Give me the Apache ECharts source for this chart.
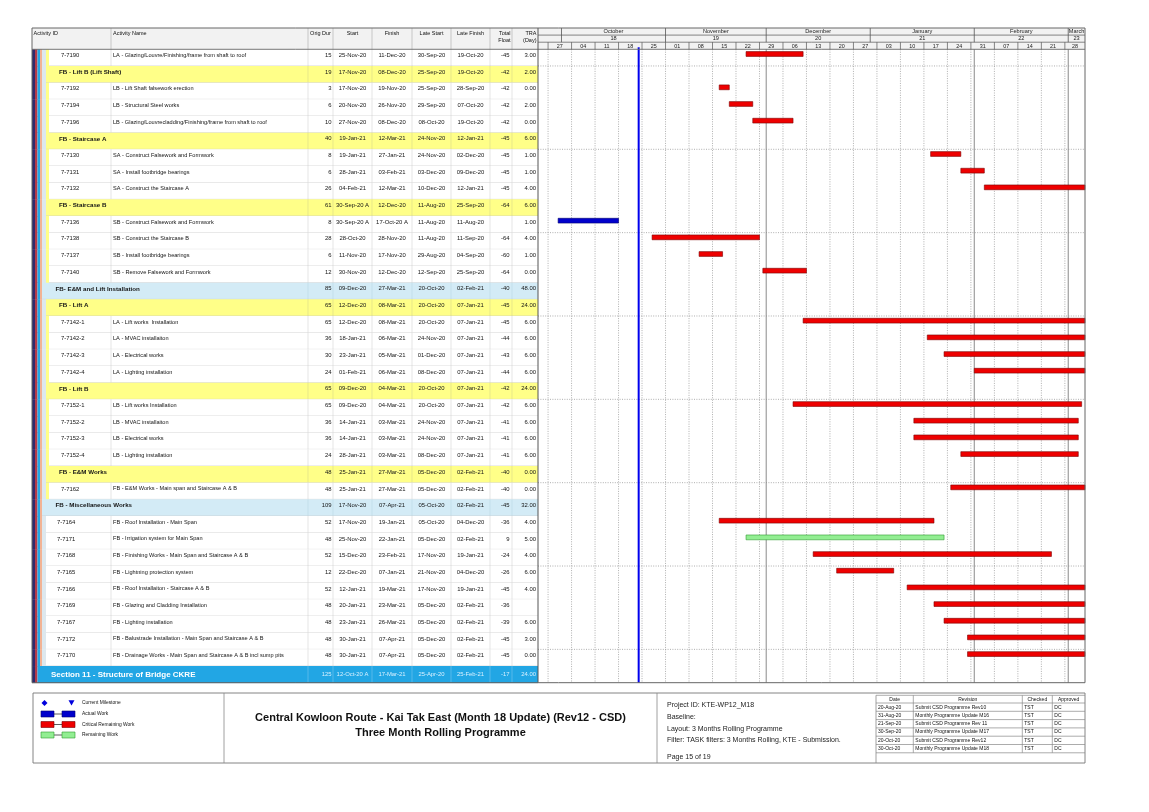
<!DOCTYPE html>
<html><head><meta charset="utf-8"><title>Three Month Rolling Programme</title>
<script src="https://cdn.jsdelivr.net/npm/echarts@6/dist/echarts.min.js"></script>
<style>html,body{margin:0;padding:0;background:#fff;}#chart{width:1149px;height:812px;}</style>
</head><body><div id="chart"></div>
<script>
// ---------------- data ----------------
const activityIds = ['7-7190','','7-7192','7-7194','7-7196','','7-7130','7-7131','7-7132','','7-7136','7-7138','7-7137','7-7140','','','7-7142-1','7-7142-2','7-7142-3','7-7142-4','','7-7152-1','7-7152-2','7-7152-3','7-7152-4','','7-7162','','7-7164','7-7171','7-7168','7-7165','7-7166','7-7169','7-7167','7-7172','7-7170',''];
const activityNames = [
 'LA - Glazing/Louvre/Finishing/frame from shaft to roof',
 'FB - Lift B (Lift Shaft)',
 'LB - Lift Shaft falsework erection',
 'LB - Structural Steel works',
 'LB - Glazing/Louvrecladding/Finishing/frame from shaft to roof',
 'FB - Staircase A',
 'SA - Construct Falsework and Formwork',
 'SA - Install footbridge bearings',
 'SA - Construct the Staircase A',
 'FB - Staircase B',
 'SB - Construct Falsework and Formwork',
 'SB - Construct the Staircase B',
 'SB - Install footbridge bearings',
 'SB - Remove Falsework and Formwork',
 'FB- E&M and Lift Installation',
 'FB - Lift A',
 'LA - Lift works  Installation',
 'LA - MVAC installaiton',
 'LA - Electrical works',
 'LA - Lighting installation',
 'FB - Lift B',
 'LB - Lift works Installation',
 'LB - MVAC installaiton',
 'LB - Electrical works',
 'LB - Lighting installation',
 'FB - E&M Works',
 'FB - E&M Works - Main span and Staircase A & B',
 'FB - Miscellaneous Works',
 'FB - Roof Installation - Main Span',
 'FB - Irrigation system for Main Span',
 'FB - Finishing Works - Main Span and Staircase A & B',
 'FB - Lightning protection system',
 'FB - Roof Installaiton - Staircase A & B',
 'FB - Glazing and Cladding Installation',
 'FB - Lighting installation',
 'FB - Balustrade Installation - Main Span and Staircase A & B',
 'FB - Drainage Works - Main Span and Staircase A & B incl sump pits',
 'Section 11 - Structure of Bridge CKRE'
];
// row kind: L1 section band, L2 / L3 WBS bands, A activity
const rowType = ['A','L3','A','A','A','L3','A','A','A','L3','A','A','A','A','L2','L3','A','A','A','A','L3','A','A','A','A','L3','A','L2','A','A','A','A','A','A','A','A','A','L1'];
// band that contains an activity row
const rowGroup = ['L3','','L3','L3','L3','','L3','L3','L3','','L3','L3','L3','L3','','','L3','L3','L3','L3','','L3','L3','L3','L3','','L3','','L2','L2','L2','L2','L2','L2','L2','L2','L2',''];
const origDur = [15,19,3,6,10,40,8,6,26,61,8,28,6,12,85,65,65,36,30,24,65,65,36,36,24,48,48,109,52,48,52,12,52,48,48,48,48,125];
const startDates = ['25-Nov-20','17-Nov-20','17-Nov-20','20-Nov-20','27-Nov-20','19-Jan-21','19-Jan-21','28-Jan-21','04-Feb-21','30-Sep-20 A','30-Sep-20 A','28-Oct-20','11-Nov-20','30-Nov-20','09-Dec-20','12-Dec-20','12-Dec-20','18-Jan-21','23-Jan-21','01-Feb-21','09-Dec-20','09-Dec-20','14-Jan-21','14-Jan-21','28-Jan-21','25-Jan-21','25-Jan-21','17-Nov-20','17-Nov-20','25-Nov-20','15-Dec-20','22-Dec-20','12-Jan-21','20-Jan-21','23-Jan-21','30-Jan-21','30-Jan-21','12-Oct-20 A'];
const finishDates = ['11-Dec-20','08-Dec-20','19-Nov-20','26-Nov-20','08-Dec-20','12-Mar-21','27-Jan-21','03-Feb-21','12-Mar-21','12-Dec-20','17-Oct-20 A','28-Nov-20','17-Nov-20','12-Dec-20','27-Mar-21','08-Mar-21','08-Mar-21','06-Mar-21','05-Mar-21','06-Mar-21','04-Mar-21','04-Mar-21','03-Mar-21','03-Mar-21','03-Mar-21','27-Mar-21','27-Mar-21','07-Apr-21','19-Jan-21','22-Jan-21','23-Feb-21','07-Jan-21','19-Mar-21','23-Mar-21','26-Mar-21','07-Apr-21','07-Apr-21','17-Mar-21'];
const lateStarts = ['30-Sep-20','25-Sep-20','25-Sep-20','29-Sep-20','08-Oct-20','24-Nov-20','24-Nov-20','03-Dec-20','10-Dec-20','11-Aug-20','11-Aug-20','11-Aug-20','29-Aug-20','12-Sep-20','20-Oct-20','20-Oct-20','20-Oct-20','24-Nov-20','01-Dec-20','08-Dec-20','20-Oct-20','20-Oct-20','24-Nov-20','24-Nov-20','08-Dec-20','05-Dec-20','05-Dec-20','05-Oct-20','05-Oct-20','05-Dec-20','17-Nov-20','21-Nov-20','17-Nov-20','05-Dec-20','05-Dec-20','05-Dec-20','05-Dec-20','25-Apr-20'];
const lateFinishes = ['19-Oct-20','19-Oct-20','28-Sep-20','07-Oct-20','19-Oct-20','12-Jan-21','02-Dec-20','09-Dec-20','12-Jan-21','25-Sep-20','11-Aug-20','11-Sep-20','04-Sep-20','25-Sep-20','02-Feb-21','07-Jan-21','07-Jan-21','07-Jan-21','07-Jan-21','07-Jan-21','07-Jan-21','07-Jan-21','07-Jan-21','07-Jan-21','07-Jan-21','02-Feb-21','02-Feb-21','02-Feb-21','04-Dec-20','02-Feb-21','19-Jan-21','04-Dec-20','19-Jan-21','02-Feb-21','02-Feb-21','02-Feb-21','02-Feb-21','25-Feb-21'];
const totalFloat = ['-45','-42','-42','-42','-42','-45','-45','-45','-45','-64','','-64','-60','-64','-40','-45','-45','-44','-43','-44','-42','-42','-41','-41','-41','-40','-40','-45','-36','9','-24','-26','-45','-36','-39','-45','-45','-17'];
const traDays = ['3.00','2.00','0.00','2.00','0.00','6.00','1.00','1.00','4.00','6.00','1.00','4.00','1.00','0.00','48.00','24.00','6.00','6.00','6.00','6.00','24.00','6.00','6.00','6.00','6.00','0.00','0.00','32.00','4.00','5.00','4.00','6.00','4.00','','6.00','3.00','0.00','24.00'];
// bar kind: A actual work, C critical remaining work, R remaining work, '' no bar
const barKind = ['C','','C','C','C','','C','C','C','','A','C','C','C','','','C','C','C','C','','C','C','C','C','','C','','C','R','C','C','C','C','C','C','C',''];

const monthNames = ['October','November','December','January','February','March'];
const monthNumbers = ['18','19','20','21','22','23'];
const monthStarts = ['01-Oct-20','01-Nov-20','01-Dec-20','01-Jan-21','01-Feb-21','01-Mar-21'];
const weekStarts = ['27-Sep-20','04-Oct-20','11-Oct-20','18-Oct-20','25-Oct-20','01-Nov-20','08-Nov-20','15-Nov-20','22-Nov-20','29-Nov-20','06-Dec-20','13-Dec-20','20-Dec-20','27-Dec-20','03-Jan-21','10-Jan-21','17-Jan-21','24-Jan-21','31-Jan-21','07-Feb-21','14-Feb-21','21-Feb-21','28-Feb-21'];
const weekLabels = ['27','04','11','18','25','01','08','15','22','29','06','13','20','27','03','10','17','24','31','07','14','21','28'];
const majorSightLines = ['01-Dec-20','01-Feb-21','01-Mar-21'];
const dataDate = '24-Oct-20';
const viewStart = '24-Sep-20';
const viewEnd = '06-Mar-21';

const columnHeaders = ['Activity ID','Activity Name','Orig Dur','Start','Finish','Late Start','Late Finish','Total\nFloat','TRA\n(Day)'];
const legendLabels = ['Current Milestone','Actual Work','Critical Remaining Work','Remaining Work'];
const titleLines = ['Central Kowloon Route - Kai Tak East (Month 18 Update) (Rev12 - CSD)','Three Month Rolling Programme'];
const projectInfo = ['Project ID: KTE-WP12_M18','Baseline:','Layout: 3 Months Rolling Programme','Filter: TASK filters: 3 Months Rolling, KTE - Submission.'];
const pageLabel = 'Page 15 of 19';
const revHeaders = ['Date','Revision','Checked','Approved'];
const revDates = ['20-Aug-20','31-Aug-20','21-Sep-20','30-Sep-20','20-Oct-20','30-Oct-20'];
const revDescs = ['Submit CSD Programme Rev10','Monthly Programme Update M16','Submit CSD Programme Rev 11','Monthly Programme Update M17','Submit CSD Programme Rev12','Monthly Programme Update M18'];
const revChecked = ['TST','TST','TST','TST','TST','TST'];
const revApproved = ['DC','DC','DC','DC','DC','DC'];

// ---------------- helpers / layout ----------------
const FONT = "'Liberation Sans', Arial, sans-serif";
const MON = {Jan:0,Feb:1,Mar:2,Apr:3,May:4,Jun:5,Jul:6,Aug:7,Sep:8,Oct:9,Nov:10,Dec:11};
function toTime(s){ const p = s.trim().split(' ')[0].split('-'); return Date.UTC(2000 + Number(p[2]), MON[p[1]], Number(p[0])); }
const DAY = 864e5;
const T0 = toTime(viewStart), T1 = toTime(viewEnd);
const LAY = {tblLeft:32, split:538, right:1085, top:28, hdrBottom:49.3, bottom:682.7};
const colEdges = [0,79,276,301,340,380,419,458,480,506];
const TW = LAY.split - LAY.tblLeft;
const rowKeys = activityIds.map((_, i) => String(i));

const BAR_STYLE = {A:['#0000cc','#00006e'], C:['#ee0000','#7a0000'], R:['#92ee92','#2f9a2f']};

function renderRow(params, api){
  const i = params.dataIndex;
  const c = api.coord([0, i]);
  const h = api.size([0, 1])[1];
  const top = c[1] - h / 2;
  const X = v => api.coord([v, i])[0];
  const t = rowType[i], g = rowGroup[i];
  const kids = [];
  const band = (a, b, fill) => kids.push({type:'rect', shape:{x:X(a), y:top, width:X(b) - X(a), height:h + 0.4}, style:{fill}});
  const vline = (v, stroke) => kids.push({type:'line', shape:{x1:X(v), y1:top, x2:X(v), y2:top + h}, style:{stroke, lineWidth:0.6}});
  const ty = top + (t === 'L1' ? 8.4 : 6.2);
  const txt = (v, s, align, extra) => kids.push({type:'text', x:X(v), y:ty,
    style:Object.assign({text:s, fill: t === 'L1' ? '#d8f0ff' : '#141414', fontFamily:FONT, fontSize:5.9, align, verticalAlign:'middle'}, extra || {})});

  band(0, 3, '#2f2a6b');
  band(3, 5.5, '#b23a48');
  let start;
  if (t === 'L1') { band(5.5, 506, '#22a6e4'); start = 5.5; }
  else {
    band(5.5, 8, '#22a6e4');
    band(8, 10, '#f2b394');
    if (t === 'L2') { band(10, 506, '#d3ebf6'); start = 10; }
    else {
      band(10, 14, '#dde8ee');
      if (t === 'L3') { band(14, 506, '#ffff88'); start = 14; }
      else {
        if (g === 'L3') { band(14, 17, '#ffff88'); start = 17; } else start = 14;
        band(start, 506, '#ffffff');
      }
    }
  }
  const colStroke = t === 'L1' ? '#78c8ef' : (t === 'L2' ? '#b9d7e5' : (t === 'L3' ? '#d9d98c' : '#d3d3d3'));
  for (let k = 2; k < colEdges.length - 1; k++) vline(colEdges[k], colStroke);
  if (t === 'A') vline(colEdges[1], colStroke);
  kids.push({type:'line', shape:{x1:X(start), y1:top + h, x2:X(506), y2:top + h}, style:{stroke: t === 'L1' ? '#1b8fc6' : '#c6c6c6', lineWidth:0.6}});

  if (t === 'A') {
    txt(g === 'L3' ? 29 : 25, activityIds[i], 'left');
    txt(81, activityNames[i], 'left', {fontSize:5.6});
  } else if (t === 'L3') {
    txt(27, activityNames[i], 'left', {fontWeight:'bold', fontSize:6.2});
  } else if (t === 'L2') {
    txt(23.5, activityNames[i], 'left', {fontWeight:'bold', fontSize:6.2});
  } else {
    txt(19, activityNames[i], 'left', {fontWeight:'bold', fontSize:8, fill:'#ffffff'});
  }
  txt(299.5, String(origDur[i]), 'right');
  txt(320.5, startDates[i], 'center');
  txt(360, finishDates[i], 'center');
  txt(399.5, lateStarts[i], 'center');
  txt(438.5, lateFinishes[i], 'center');
  txt(477.5, totalFloat[i], 'right');
  txt(504, traDays[i], 'right');
  return {type:'group', children:kids};
}

function renderRowSight(params, api){
  const i = params.dataIndex;
  if (i % 5 !== 1) return null;
  const cs = params.coordSys;
  const c = api.coord([T0, i]);
  const h = api.size([0, 1])[1];
  const y = c[1] - h / 2;
  return {type:'line', shape:{x1:cs.x, y1:y, x2:cs.x + cs.width, y2:y}, style:{stroke:'#8c8c8c', lineWidth:0.7, lineDash:[1, 1.4]}};
}
function renderWeekLine(params, api){
  const cs = params.coordSys;
  const x = api.coord([api.value(0), 0])[0];
  return {type:'line', shape:{x1:x, y1:cs.y, x2:x, y2:cs.y + cs.height}, style:{stroke:'#8c8c8c', lineWidth:0.7, lineDash:[1, 1.4]}};
}
function renderMajorLine(params, api){
  const cs = params.coordSys;
  const x = api.coord([api.value(0), 0])[0];
  return {type:'line', shape:{x1:x, y1:cs.y, x2:x, y2:cs.y + cs.height}, style:{stroke:'#8a8a8a', lineWidth:1}};
}
function renderDataDate(params, api){
  const cs = params.coordSys;
  const x = api.coord([api.value(0), 0])[0];
  return {type:'line', shape:{x1:x, y1:cs.y - 2, x2:x, y2:cs.y + cs.height}, style:{stroke:'#0000ee', lineWidth:2}};
}
let barData = [];
activityIds.forEach((_, i) => { if (barKind[i]) barData.push([i, toTime(startDates[i]), toTime(finishDates[i]) + DAY, barKind[i]]); });
function renderBar(params, api){
  const d = barData[params.dataIndex];
  const a = api.coord([api.value(1), api.value(0)]);
  const b = api.coord([api.value(2), api.value(0)]);
  const h = api.size([0, 1])[1];
  const cs = params.coordSys;
  const shape = echarts.graphic.clipRectByRect({x:a[0], y:a[1] - h / 2 + 2.3, width:b[0] - a[0], height:4.8},
    {x:cs.x, y:cs.y, width:cs.width, height:cs.height});
  if (!shape) return null;
  const st = BAR_STYLE[d[3]];
  return {type:'rect', shape, style:{fill:st[0], stroke:st[1], lineWidth:0.6}};
}
function renderMonth(params, api){
  const k = params.dataIndex;
  const p0 = api.coord([api.value(0), 0]);
  const p1 = api.coord([api.value(1), 1]);
  const p2 = api.coord([api.value(1), 2]);
  const x0 = p0[0], x1 = p1[0];
  return {type:'group', children:[
    {type:'line', shape:{x1:x0, y1:p0[1], x2:x0, y2:p2[1]}, style:{stroke:'#555', lineWidth:0.8}},
    {type:'text', x:(x0 + x1) / 2, y:(p0[1] + p1[1]) / 2 + 0.3, style:{text:monthNames[k], fontFamily:FONT, fontSize:5.6, fill:'#222', align:'center', verticalAlign:'middle'}},
    {type:'text', x:(x0 + x1) / 2, y:(p1[1] + p2[1]) / 2 + 0.3, style:{text:monthNumbers[k], fontFamily:FONT, fontSize:5.6, fill:'#222', align:'center', verticalAlign:'middle'}}
  ]};
}
function renderWeek(params, api){
  const k = params.dataIndex;
  const p0 = api.coord([api.value(0), 2]);
  const p1 = api.coord([api.value(1), 3]);
  return {type:'group', children:[
    {type:'line', shape:{x1:p0[0], y1:p0[1], x2:p0[0], y2:p1[1]}, style:{stroke:'#555', lineWidth:0.7}},
    {type:'text', x:(p0[0] + p1[0]) / 2, y:(p0[1] + p1[1]) / 2 + 0.3, style:{text:weekLabels[k], fontFamily:FONT, fontSize:5.4, fill:'#222', align:'center', verticalAlign:'middle'}}
  ]};
}

// ---------------- static frame / footer graphics ----------------
const G = [];
const gRect = (x, y, w, h, style, z) => G.push({type:'rect', shape:{x, y, width:w, height:h}, style, z:z || 0, silent:true});
const gLine = (x1, y1, x2, y2, stroke, w, z) => G.push({type:'line', shape:{x1, y1, x2, y2}, style:{stroke, lineWidth:w || 0.8}, z:z || 60, silent:true});
const gText = (x, y, text, o) => G.push({type:'text', x, y, style:Object.assign({text, fontFamily:FONT, fontSize:5.5, fill:'#111', align:'left', verticalAlign:'middle'}, o || {}), z:61, silent:true});

// headers background
gRect(LAY.tblLeft, LAY.top, TW, LAY.hdrBottom - LAY.top, {fill:'#f2f2f2'}, 0);
gRect(LAY.split, LAY.top, LAY.right - LAY.split, LAY.hdrBottom - LAY.top, {fill:'#f2f2f2'}, 0);
// table header columns & titles
for (let k = 1; k < colEdges.length - 1; k++) gLine(LAY.tblLeft + colEdges[k], LAY.top, LAY.tblLeft + colEdges[k], LAY.hdrBottom, '#b4b4b4', 0.7);
const hdrPos = [[1.5,'left'],[81,'left'],[288.5,'center'],[320.5,'center'],[360,'center'],[399.5,'center'],[438.5,'center'],[478.5,'right'],[504.5,'right']];
columnHeaders.forEach((h, k) => gText(LAY.tblLeft + hdrPos[k][0], 29.6, h, {align:hdrPos[k][1], verticalAlign:'top', fontSize:5.5, lineHeight:7.2}));
// gantt header tier lines
const tierH = (LAY.hdrBottom - LAY.top) / 3;
gLine(LAY.split, LAY.top + tierH, LAY.right, LAY.top + tierH, '#555', 0.7);
gLine(LAY.split, LAY.top + 2 * tierH, LAY.right, LAY.top + 2 * tierH, '#555', 0.7);
// main frame
gLine(LAY.tblLeft, LAY.hdrBottom, LAY.right, LAY.hdrBottom, '#666', 0.9);
gLine(LAY.split, LAY.top, LAY.split, LAY.bottom, '#555', 1);
gRect(LAY.tblLeft, LAY.top, LAY.right - LAY.tblLeft, LAY.bottom - LAY.top, {fill:'none', stroke:'#666', lineWidth:1}, 60);

// footer
const F = {top:693, bottom:763, left:33, legend:224, title:657, info:876};
gRect(F.left, F.top, LAY.right - F.left, F.bottom - F.top, {fill:'none', stroke:'#777', lineWidth:0.9}, 60);
gLine(F.legend, F.top, F.legend, F.bottom, '#888', 0.8);
gLine(F.title, F.top, F.title, F.bottom, '#888', 0.8);
// legend
const legY = [703, 714, 724.5, 735];
G.push({type:'polygon', shape:{points:[[44.5,legY[0]-3],[47.5,legY[0]],[44.5,legY[0]+3],[41.5,legY[0]]]}, style:{fill:'#0000dd'}, z:61, silent:true});
G.push({type:'polygon', shape:{points:[[68.5,legY[0]-2.8],[74.5,legY[0]-2.8],[71.5,legY[0]+2.6]]}, style:{fill:'#0000dd'}, z:61, silent:true});
[['A',1],['C',2],['R',3]].forEach(([kd, r]) => {
  const y = legY[r], st = BAR_STYLE[kd];
  gLine(53, y, 63, y, '#333', 0.8);
  gRect(41, y - 3, 13, 6, {fill:st[0], stroke:st[1], lineWidth:0.6}, 61);
  gRect(62, y - 3, 13, 6, {fill:st[0], stroke:st[1], lineWidth:0.6}, 61);
});
legendLabels.forEach((l, k) => gText(82, legY[k], l, {fontSize:4.9}));
// title
gText((F.legend + F.title) / 2, 718, titleLines[0], {align:'center', fontSize:11, fontWeight:'bold'});
gText((F.legend + F.title) / 2, 733, titleLines[1], {align:'center', fontSize:11, fontWeight:'bold'});
// project info
[705, 717, 729, 740].forEach((y, k) => gText(667, y, projectInfo[k], {fontSize:7, fill:'#222'}));
gText(667, 757, pageLabel, {fontSize:7, fill:'#222'});
// revision table
const RV = {left:876, cols:[876, 913.3, 1022.3, 1052.3, 1085], top:695.3, hdrH:7.7, rowH:8.3};
gLine(RV.left, RV.top, RV.left, F.bottom, '#888', 0.8);
gLine(RV.left, RV.top, LAY.right, RV.top, '#888', 0.7);
const rvBottom = RV.top + RV.hdrH + revDates.length * RV.rowH;
for (let k = 1; k < 4; k++) gLine(RV.cols[k], RV.top, RV.cols[k], rvBottom, '#888', 0.7);
gLine(RV.left, RV.top + RV.hdrH, LAY.right, RV.top + RV.hdrH, '#888', 0.7);
revHeaders.forEach((h, k) => gText((RV.cols[k] + RV.cols[k + 1]) / 2, RV.top + RV.hdrH / 2, h, {align:'center', fontSize:5}));
revDates.forEach((d, r) => {
  const y0 = RV.top + RV.hdrH + r * RV.rowH;
  gLine(RV.left, y0 + RV.rowH, LAY.right, y0 + RV.rowH, '#888', 0.7);
  const yc = y0 + RV.rowH / 2;
  gText(RV.cols[0] + 2, yc, d, {fontSize:5});
  gText(RV.cols[1] + 2, yc, revDescs[r], {fontSize:5});
  gText(RV.cols[2] + 2, yc, revChecked[r], {fontSize:5});
  gText(RV.cols[3] + 2, yc, revApproved[r], {fontSize:5});
});

// ---------------- chart ----------------
const chart = echarts.init(document.getElementById('chart'), null, {renderer:'canvas', width:1149, height:812});
const hideAxis = {show:false};
chart.setOption({
  animation:false,
  backgroundColor:'#ffffff',
  textStyle:{fontFamily:FONT},
  grid:[
    {left:LAY.split, top:LAY.hdrBottom, width:LAY.right - LAY.split, height:LAY.bottom - LAY.hdrBottom},
    {left:LAY.split, top:LAY.top, width:LAY.right - LAY.split, height:LAY.hdrBottom - LAY.top},
    {left:LAY.tblLeft, top:LAY.hdrBottom, width:TW, height:LAY.bottom - LAY.hdrBottom}
  ],
  xAxis:[
    Object.assign({gridIndex:0, type:'time', min:T0, max:T1}, hideAxis),
    Object.assign({gridIndex:1, type:'time', min:T0, max:T1}, hideAxis),
    Object.assign({gridIndex:2, type:'value', min:0, max:TW}, hideAxis)
  ],
  yAxis:[
    Object.assign({gridIndex:0, type:'category', data:rowKeys, inverse:true}, hideAxis),
    Object.assign({gridIndex:1, type:'value', min:0, max:3, inverse:true}, hideAxis),
    Object.assign({gridIndex:2, type:'category', data:rowKeys, inverse:true}, hideAxis)
  ],
  graphic:{elements:G},
  series:[
    {type:'custom', name:'rows', xAxisIndex:2, yAxisIndex:2, silent:true, z:2,
     data:activityIds.map((_, i) => [0, i]), encode:{x:0, y:1}, renderItem:renderRow},
    {type:'custom', name:'rowSight', xAxisIndex:0, yAxisIndex:0, silent:true, z:2,
     data:activityIds.map((_, i) => [T0, i]), encode:{x:0, y:1}, renderItem:renderRowSight},
    {type:'custom', name:'weekLines', xAxisIndex:0, yAxisIndex:0, silent:true, z:2,
     data:weekStarts.map(d => [toTime(d), 0]), encode:{x:0, y:1}, renderItem:renderWeekLine},
    {type:'custom', name:'majorLines', xAxisIndex:0, yAxisIndex:0, silent:true, z:3,
     data:majorSightLines.map(d => [toTime(d), 0]), encode:{x:0, y:1}, renderItem:renderMajorLine},
    {type:'custom', name:'bars', xAxisIndex:0, yAxisIndex:0, silent:true, z:5,
     data:barData.map(d => [d[0], d[1], d[2]]), encode:{x:[1, 2], y:0}, renderItem:renderBar},
    {type:'custom', name:'dataDate', xAxisIndex:0, yAxisIndex:0, silent:true, z:6,
     data:[[toTime(dataDate), 0]], encode:{x:0, y:1}, renderItem:renderDataDate},
    {type:'custom', name:'months', xAxisIndex:1, yAxisIndex:1, silent:true, z:4,
     data:monthStarts.map((d, k) => [toTime(d), k + 1 < monthStarts.length ? toTime(monthStarts[k + 1]) : T1, 0]),
     encode:{x:[0, 1], y:2}, renderItem:renderMonth},
    {type:'custom', name:'weeks', xAxisIndex:1, yAxisIndex:1, silent:true, z:4,
     data:weekStarts.map(d => [toTime(d), Math.min(toTime(d) + 7 * DAY, T1), 2]),
     encode:{x:[0, 1], y:2}, renderItem:renderWeek}
  ]
});
</script>
</body></html>
